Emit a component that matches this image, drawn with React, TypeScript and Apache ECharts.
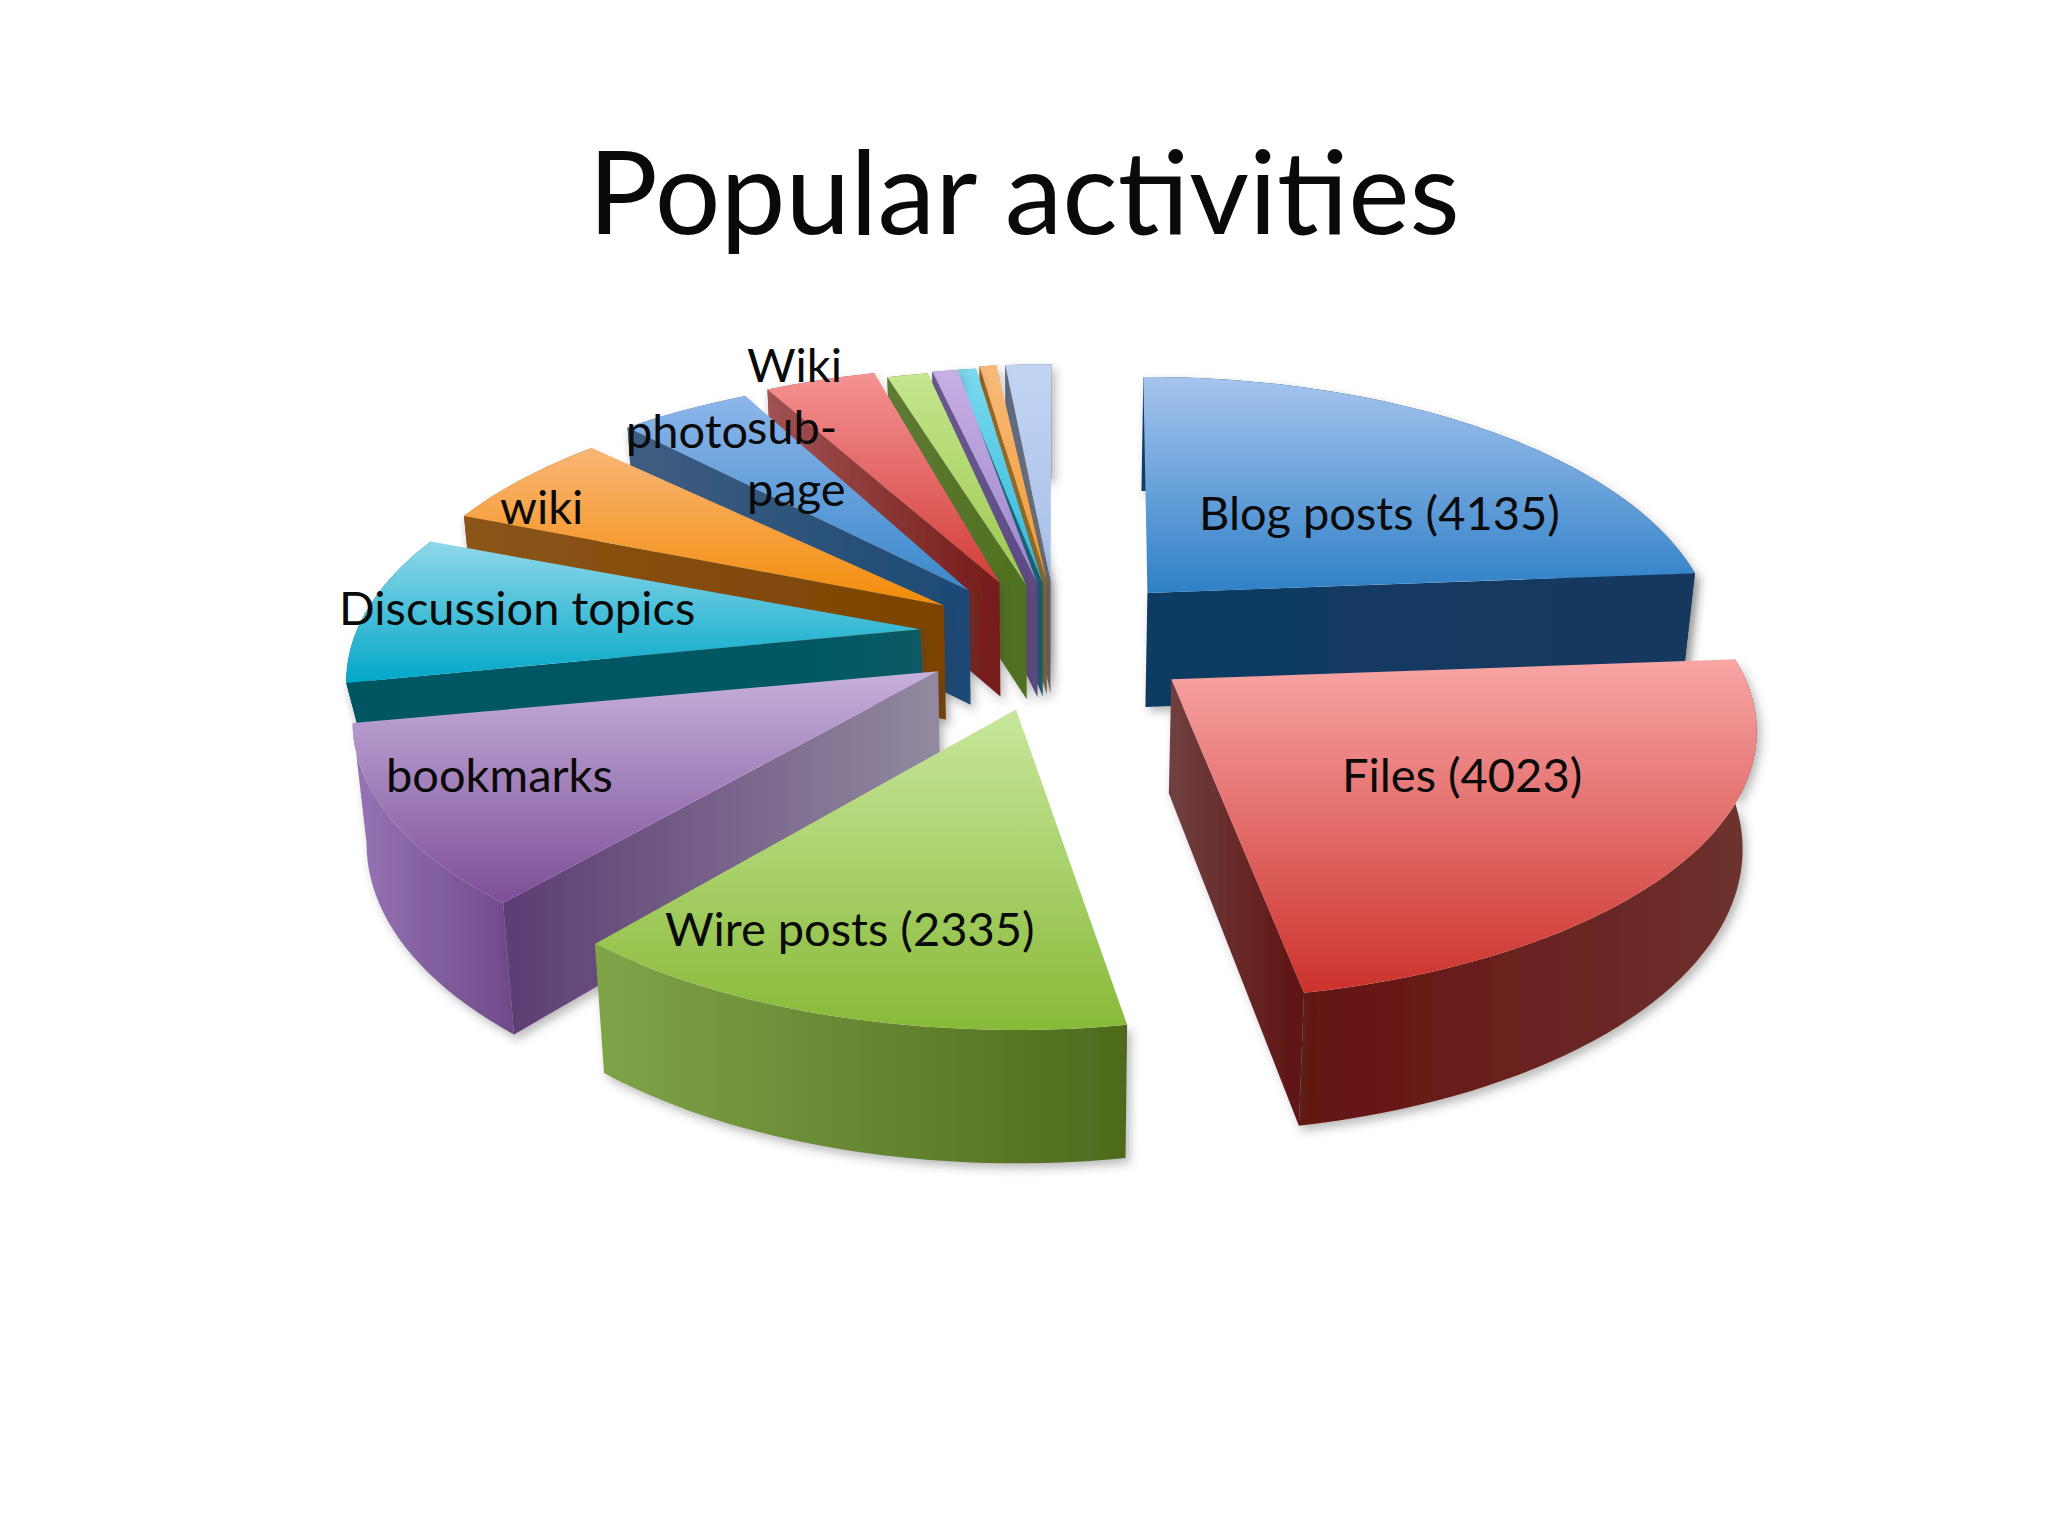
import React, { useEffect, useRef } from "react";
import * as echarts from "echarts";

const titleText = "Popular activities";
const activityNames = ["Blog posts", "Files", "Wire posts", "bookmarks", "Discussion topics", "wiki", "photo", "Wiki sub-page", "blog comments", "pages", "groups", "messages", "other"];
const activityValues = [4135, 4023, 2335, 1860, 1580, 1060, 770, 650, 240, 150, 120, 100, 270];
const labelTexts = ["Blog posts (4135)", "Files (4023)", "Wire posts (2335)", "bookmarks", "Discussion topics", "wiki", "photo", "Wiki\nsub-\npage"];
const labelAnchors = [[1199, 512], [1342, 774], [665, 928], [386, 774], [339, 607], [500, 506], [626, 430], [747, 426]];
const paintOrder = [12, 11, 10, 9, 8, 7, 6, 5, 4, 3, 2, 0, 1];

// per-slice layout tuning: screen nudge of the apex, turn in degrees, horizontal radius scale, wall height scale
const sliceNudges = [[10, 7], [20, -2], [0, -2], [1, -3], [3, 4], [8, 7], [5, 7], [7, 7], [14, 13], [16, 12], [15, 12], [14, 10], [9, 10]];
const sliceTurns = [-0.5, -0.6, 1, 1.7, 1.3, 1.8, 4.1, 3, 1.3, 0.5, -0.4, -0.5, 0.1];
const sliceScales = [0.99, 1.02, 1, 1.02, 1, 0.985, 1, 1, 1, 1, 1, 1, 1];
const wallScales = [1, 1, 1, 1.02, 0.45, 1, 1, 1, 1, 1, 1, 1, 1];

// top light, top saturated, arc wall start, arc wall end, radial wall start, radial wall end
const sliceColors = [
  ["#a6c4ee", "#2f80c7", "#123a63", "#123a63", "#0f3a62", "#17395e"],
  ["#f8a6a6", "#cc322c", "#651210", "#6e3230", "#704040", "#5f1311"],
  ["#c8e79d", "#88ba38", "#7fa448", "#4e6a1d", "#7fa448", "#4e6a1d"],
  ["#c6b0dc", "#7d4f97", "#9874b4", "#6f4a8a", "#5d3c74", "#928aa0"],
  ["#90d8ea", "#02a7c8", "#025563", "#025563", "#025563", "#075a66"],
  ["#f9b677", "#f38c08", "#7e4a0a", "#7e4a0a", "#8a5518", "#7c4300"],
  ["#8db6ea", "#3a88cb", "#3b5a80", "#3b5a80", "#3f5d80", "#1c4975"],
  ["#f49292", "#d33e3a", "#9a5050", "#9a5050", "#a05252", "#741b19"],
  ["#c4e68e", "#9dc84e", "#5f7a33", "#5f7a33", "#5f7a33", "#4f7020"],
  ["#c6b0e4", "#a085cc", "#6a5a8c", "#6a5a8c", "#6a5a8c", "#5d4a86"],
  ["#7cd9ee", "#2fb9dd", "#1a7a90", "#1a7a90", "#1a7a90", "#145e78"],
  ["#f8ba7c", "#f39b2c", "#9a6420", "#9a6420", "#9a6420", "#8a7030"],
  ["#c2d4f3", "#a8c0e8", "#5e6a80", "#5e6a80", "#5e6a80", "#6f6f78"],
];

const CX = 1048, CY = 629, RX = 563, RY = 258, K = 0.195, EX = 131, EY_FAR = 59, EY_NEAR = 85, H0 = 114, H_GROW = 0.17, PINCH = 0.02;

const total = activityValues.reduce((a, b) => a + b, 0);
const startAngles: number[] = [];
activityValues.reduce((acc, v, i) => { startAngles[i] = acc; return acc + (v / total) * 2 * Math.PI; }, 0);
const sweep = (i: number) => (activityValues[i] / total) * 2 * Math.PI;

function project(i: number, theta: number, r: number, down: boolean): number[] {
  const mid = startAngles[i] + sweep(i) / 2;
  const cm = Math.cos(mid);
  const ax = CX + EX * Math.sin(mid) + sliceNudges[i][0];
  const ay = CY - (cm > 0 ? EY_FAR : EY_NEAR) * cm + sliceNudges[i][1];
  const u = r * Math.sin(theta), v = -r * Math.cos(theta);
  const s = 1 / (1 - K * v);
  let x = ax + RX * sliceScales[i] * u * s;
  let y = ay + RY * v * s;
  if (down) {
    y += H0 * wallScales[i] * (1 + H_GROW * Math.max(v, 0));
    x -= (x - CX) * PINCH;
  }
  return [x, y];
}

function lin(from: string, to: string, vertical: boolean) {
  return { type: "linear", x: 0, y: 0, x2: vertical ? 0 : 1, y2: vertical ? 1 : 0, colorStops: [{ offset: 0, color: from }, { offset: 1, color: to }] };
}

function renderSlice(params: any) {
  const i = paintOrder[params.dataIndex];
  const a0 = startAngles[i] + (sliceTurns[i] * Math.PI) / 180;
  const a1 = a0 + sweep(i);
  const c = sliceColors[i];
  const steps = Math.max(3, Math.ceil((a1 - a0) / 0.03));
  const arcTop: number[][] = [], arcBottom: number[][] = [];
  for (let k = 0; k <= steps; k++) {
    const t = a0 + ((a1 - a0) * k) / steps;
    arcTop.push(project(i, t, 1, false));
    arcBottom.push(project(i, t, 1, true));
  }
  const apexTop = project(i, a0, 0, false);
  const apexBottom = project(i, a0, 0, true);
  const shadow = { shadowBlur: 10, shadowColor: "rgba(60,60,60,0.35)", shadowOffsetX: 4, shadowOffsetY: 5 };
  const children: any[] = [];
  children.push({ type: "polygon", shape: { points: [...arcTop, ...arcBottom.slice().reverse()] }, style: { fill: lin(c[2], c[3], false), ...shadow } });
  if (a0 >= Math.PI) {
    children.push({ type: "polygon", shape: { points: [apexTop, arcTop[0], arcBottom[0], apexBottom] }, style: { fill: lin(c[4], c[5], false), ...shadow } });
  }
  if (a1 <= Math.PI) {
    children.push({ type: "polygon", shape: { points: [apexTop, arcTop[steps], arcBottom[steps], apexBottom] }, style: { fill: lin(c[4], c[5], false), ...shadow } });
  }
  children.push({ type: "polygon", shape: { points: [apexTop, ...arcTop] }, style: { fill: lin(c[0], c[1], true) } });
  return { type: "group", children };
}

function renderLabel(params: any) {
  const p = labelAnchors[params.dataIndex];
  return {
    type: "text",
    x: p[0],
    y: p[1],
    style: {
      text: labelTexts[params.dataIndex],
      font: '47px Lato, "Noto Sans", sans-serif',
      fill: "#0a0a0a",
      align: "left",
      verticalAlign: "middle",
      lineHeight: 62,
    },
  };
}

export default function App() {
  const ref = useRef<HTMLDivElement>(null);
  useEffect(() => {
    const chart = echarts.init(ref.current!, undefined, { renderer: "svg" });
    chart.setOption({
      animation: false,
      backgroundColor: "#ffffff",
      graphic: [
        {
          type: "text",
          x: 1024,
          y: 189,
          style: {
            text: titleText,
            font: '116px Lato, "Noto Sans", sans-serif',
            fill: "#0a0a0a",
            align: "center",
            verticalAlign: "middle",
          },
        },
      ],
      series: [
        { type: "custom", coordinateSystem: "none", renderItem: renderSlice, data: paintOrder.map((i) => ({ name: activityNames[i], value: activityValues[i] })), silent: true, clip: false },
        { type: "custom", coordinateSystem: "none", renderItem: renderLabel, data: labelTexts.map((t) => t), silent: true, z: 5 },
      ],
    });
    return () => chart.dispose();
  }, []);
  return <div ref={ref} style={{ position: "fixed", left: 0, top: 0, width: 2048, height: 1536 }} />;
}
